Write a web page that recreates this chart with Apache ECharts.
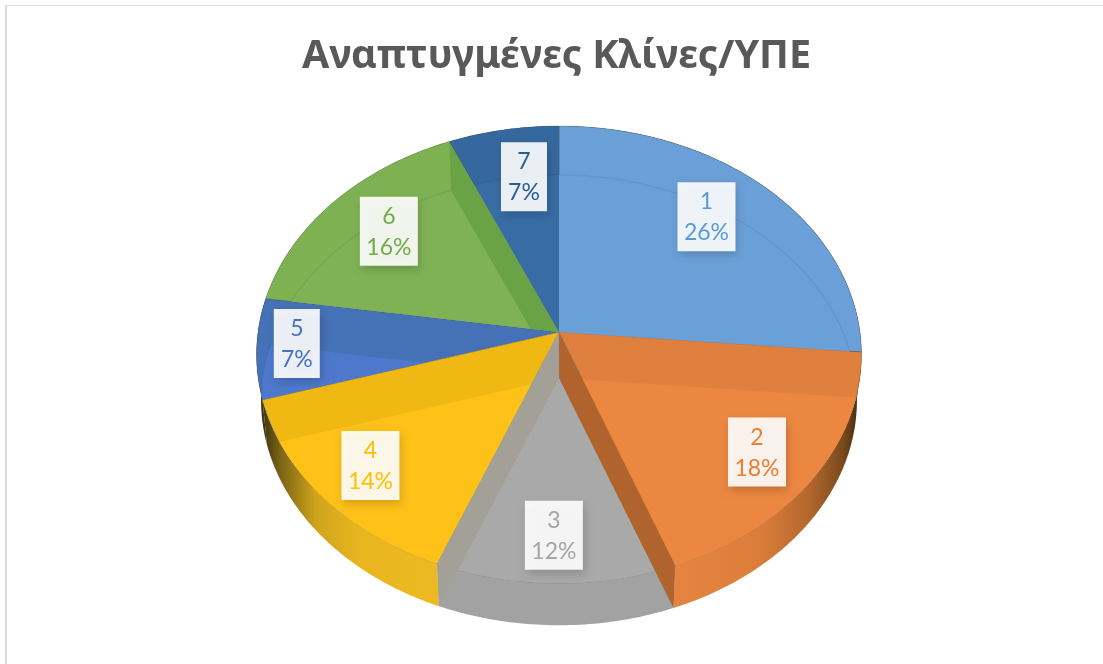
<!DOCTYPE html>
<html><head><meta charset="utf-8">
<style>html,body{margin:0;padding:0;background:#fff}#c{width:1103px;height:664px}</style>
<script src="https://cdn.jsdelivr.net/npm/echarts@6/dist/echarts.min.js"></script>
</head><body><div id="c"></div>
<script>
const chartTitle = 'Αναπτυγμένες Κλίνες/ΥΠΕ';
const categories = ['1','2','3','4','5','6','7'];
const seriesValues = [26.4,17.9,11.7,14.3,7.1,16.1,6.5];

// styles
const labelColors = ['#5b9bd5','#ed7d31','#a5a5a5','#ffc000','#4472c4','#70ad47','#255e91'];
const bandColors  = ['#6a9fd7','#df803f','#a6a49c','#f0b813','#4571b7','#7db152','#35689e'];
const innerColors = ['#6aa0d8','#ec8741','#a9a9a9','#fec118','#4e78cb','#7eb254','#386ca4'];
const wallColors  = ['#3a2a10','#e0823e','#a2a2a2','#e9b620','#3f3510','#5f9a3d','#2c5a8c'];
// layout: perspective disc
const CX=559, CY=332, B=301, A=226.3, K=-0.0985, DROP=46, BOTTOM_SCALE=0.985;
const labelNudge=[[-1,-13],[23,20],[-3,33],[-26,21],[-51,0],[-10,-8],[5,-10]];
const BOX_H=69;

const total = seriesValues.reduce((a,b)=>a+b,0);
const cum=[0]; seriesValues.forEach(v=>cum.push(cum[cum.length-1]+v));
const theta = s => s/total*2*Math.PI;
function project(t,f,bottom){
  const u=f*Math.sin(t), v=-f*Math.cos(t), w=1+K*v;
  const s=bottom?BOTTOM_SCALE:1;
  return [CX+s*B*u/w, CY+(bottom?DROP:0)+s*A*v/w];
}
function arc(i,bottom){
  const a=theta(cum[i]), b=theta(cum[i+1]), n=Math.max(4,Math.ceil((b-a)/0.015)), pts=[];
  for(let j=0;j<=n;j++) pts.push(project(a+(b-a)*j/n,1,bottom));
  return pts;
}
const apex = bottom => project(0,0,bottom);
const slice = (i,bottom)=>[apex(bottom)].concat(arc(i,bottom));
const wallQuad = s => {const t=theta(s);return [apex(false),project(t,1,false),project(t,1,true),apex(true)];};

const wallFill = {
  1:{type:'linear',x:0,y:0,x2:1,y2:0,colorStops:[{offset:0,color:'#e4843f'},{offset:.45,color:'#dc7e3b'},{offset:.72,color:'#b5682e'},{offset:.9,color:'#7a4a1c'},{offset:1,color:'#3a2a10'}]},
  3:{type:'linear',x:0,y:0,x2:1,y2:0,colorStops:[{offset:0,color:'#3f3510'},{offset:.1,color:'#7a6414'},{offset:.3,color:'#cfa41c'},{offset:.55,color:'#e8b51f'},{offset:1,color:'#ecba20'}]}
};

function renderWall(p){const i=p.dataIndex;
  return {type:'polygon',shape:{points:arc(i,false).concat(arc(i,true).reverse())},style:{fill:wallFill[i]||wallColors[i]}};}
function renderTop(p){const i=p.dataIndex;
  return {type:'polygon',shape:{points:slice(i,false)},style:{fill:bandColors[i],stroke:'rgba(60,60,60,0.22)',lineWidth:1}};}
function renderInner(p){const i=p.dataIndex;
  const clip=()=>({type:'polygon',shape:{points:slice(i,false)}});
  return {type:'group',children:[
    {type:'polygon',shape:{points:slice(i,true)},clipPath:clip(),style:{fill:innerColors[i]}},
    {type:'polyline',shape:{points:arc(i,true)},clipPath:clip(),style:{fill:'none',stroke:'rgba(40,40,40,0.07)',lineWidth:1.5}}
  ]};}
function renderStripe(p){const i=p.dataIndex;
  const kids=[];
  if(i===2) kids.push({type:'polygon',shape:{points:wallQuad(cum[3])},style:{fill:'#a3a197'}});
  if(i===1) kids.push({type:'polygon',shape:{points:wallQuad(cum[2])},style:{fill:'#b0632c'}});
  if(i===5) kids.push({type:'polygon',shape:{points:wallQuad(cum[6])},clipPath:{type:'polygon',shape:{points:slice(5,false)}},style:{fill:'#6aa346'}});
  return {type:'group',children:kids};}
function renderLabel(p){const i=p.dataIndex;
  const m=project(theta((cum[i]+cum[i+1])/2),0.7,false);
  const x=m[0]+labelNudge[i][0], y=m[1]+labelNudge[i][1];
  const font='"Lato","Noto Sans",sans-serif', c=labelColors[i];
  const pct=Math.round(seriesValues[i]/total*100)+'%';
  const w=pct.length>2?58:46;
  return {type:'group',children:[
    {type:'rect',shape:{x:x-w/2,y:y-BOX_H/2,width:w,height:BOX_H},
     style:{fill:'rgba(255,255,255,0.9)',shadowBlur:9,shadowOffsetX:2,shadowOffsetY:4,shadowColor:'rgba(0,0,0,0.2)'}},
    {type:'text',style:{x:x,y:y-15,text:categories[i],fill:c,font:'23px '+font,textAlign:'center',textVerticalAlign:'middle'}},
    {type:'text',style:{x:x,y:y+16,text:pct,fill:c,font:'23px '+font,textAlign:'center',textVerticalAlign:'middle'}}
  ]};}

const data = categories.map((c,i)=>({name:c,value:seriesValues[i]}));
const mk=(fn,z)=>({type:'custom',coordinateSystem:'none',renderItem:fn,data:data,z:z,silent:true,animation:false,clip:false});
const chart=echarts.init(document.getElementById('c'),null,{renderer:'canvas'});
chart.setOption({
  animation:false,backgroundColor:'#ffffff',
  title:{text:chartTitle,left:551.5,textAlign:'center',top:32,
    textStyle:{color:'#595959',fontWeight:'bold',fontSize:39.5,fontFamily:'"Noto Sans",sans-serif'}},
  graphic:[
    {type:'rect',silent:true,z:100,shape:{x:5,y:5,width:1098,height:1},style:{fill:'#dcdcdc'}},
    {type:'rect',silent:true,z:100,shape:{x:5,y:5,width:2,height:659},style:{fill:'#dcdcdc'}}
  ],
  series:[mk(renderWall,1),mk(renderTop,2),mk(renderInner,3),mk(renderStripe,4),mk(renderLabel,5)]
});
</script></body></html>
